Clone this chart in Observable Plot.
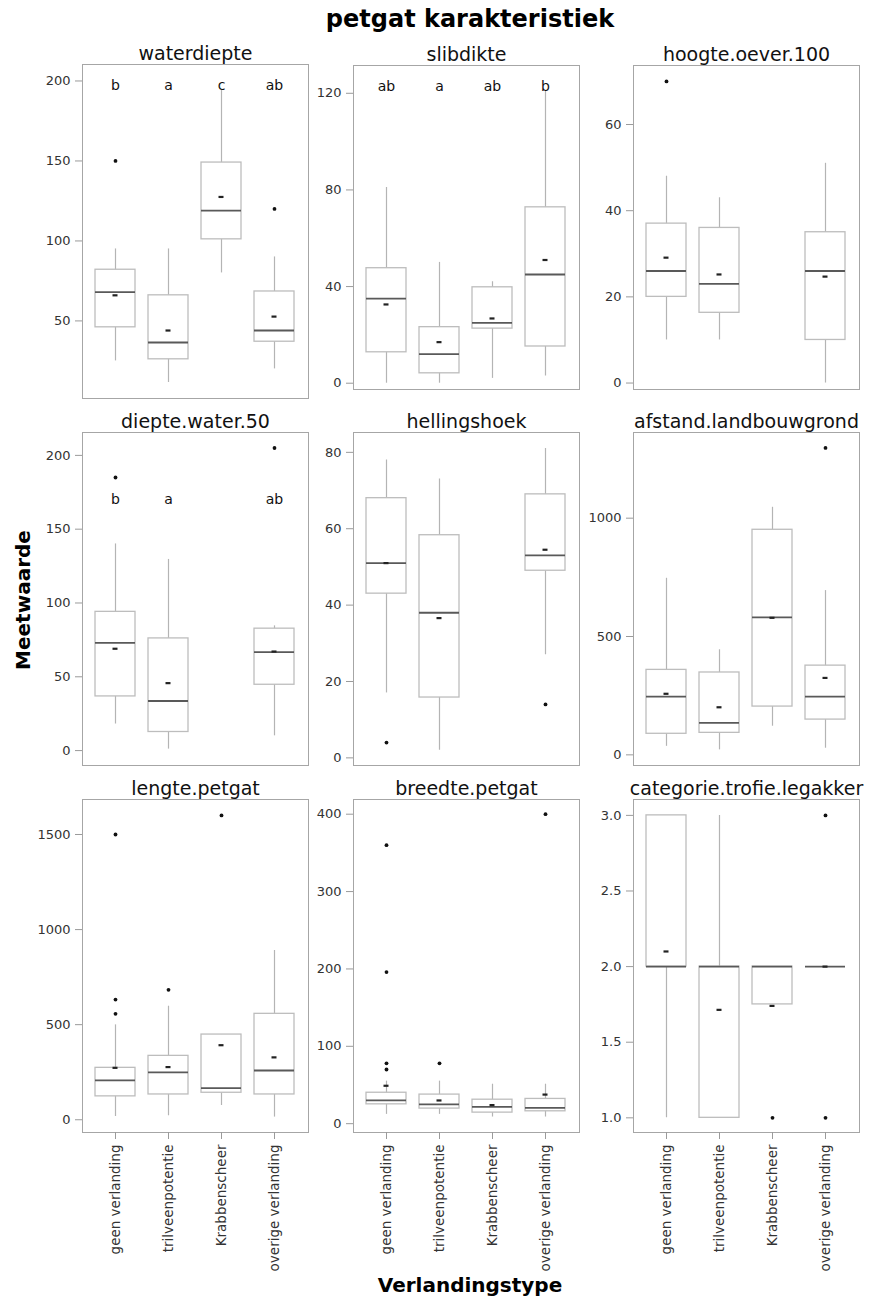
<!DOCTYPE html>
<html><head><meta charset="utf-8">
<script src="https://cdn.jsdelivr.net/npm/d3@7"></script>
<script src="https://cdn.jsdelivr.net/npm/@observablehq/plot@0.6"></script>
<style>
body{margin:0;background:#fff;font-family:"DejaVu Sans",sans-serif;}
#chart{position:relative;width:880px;height:1302px;overflow:hidden;}
.abs{position:absolute;white-space:nowrap;color:#000;}
</style></head><body><div id="chart"></div>
<script>
const categories = ["geen verlanding","trilveenpotentie","Krabbenscheer","overige verlanding"];
const panelNames = ["waterdiepte","slibdikte","hoogte.oever.100","diepte.water.50","hellingshoek","afstand.landbouwgrond","lengte.petgat","breedte.petgat","categorie.trofie.legakker"];

// per panel, per category (null = no data)
const lowWhisker = [
  [25,11.5,80,20],[0,0,2,3],[10,10,null,0],
  [18,1,null,10],[17,2,null,27],[36,21,121,28],
  [17,21,75,14],[12,12,8.6,8.6],[1,1,1.75,2]];
const q1 = [
  [46,26,101,37],[12.8,4.1,22.6,15.2],[20,16.3,null,10],
  [36.7,12.6,null,44.6],[43,15.8,null,49],[89,93,204,149],
  [123,133,142,133],[25,19.5,14.3,16],[2,1,1.75,2]];
const median = [
  [68,36.5,119,44],[35,12,25,45],[26,23,null,26],
  [73,33.6,null,66.7],[51,38,null,53],[246,135,581,246],
  [207,249,166,259],[30,25,21.6,20.3],[2,2,2,2]];
const q3 = [
  [82,66,149,68.4],[47.6,23.2,39.7,72.8],[37,36,null,35],
  [94,76,null,82.6],[68,58.3,null,69],[359,348,951,377],
  [273,336,448,557],[40,37.6,31,32],[3,2,2,2]];
const highWhisker = [
  [95,95,194,90],[81,50,42,121],[48,43,null,51],
  [140,129.5,null,84.5],[78,73,null,81],[746,444,1046,694],
  [499,597,448,890],[55,55,51,51],[3,3,2,2]];
const mean = [
  [66,44,127.5,52.7],[32.6,17,26.8,51],[29.1,25.2,null,24.7],
  [69,45.7,null,67.1],[51,36.6,null,54.5],[258,201,579,325],
  [273,277,392,328],[49,30,24,37.6],[2.1,1.714,1.74,2]];
// outliers: [category index, value]
const outliers = [
  [[0,150],[3,120]],[],[[0,70]],
  [[0,185],[3,205]],[[0,4],[3,14]],[[3,1297]],
  [[0,1500],[0,632],[0,557],[1,683],[2,1600]],
  [[0,360],[0,196],[0,78],[0,70],[1,78],[3,400]],
  [[2,1],[3,3],[3,1]]];
const letters = [["b","a","c","ab"],["ab","a","ab","b"],null,["b","a","","ab"],null,null,null,null,null];
const letterValue = [197,123,null,170,null,null,null,null,null];
const yTicks = [[50,100,150,200],[0,40,80,120],[0,20,40,60],[0,50,100,150,200],[0,20,40,60,80],[0,500,1000],[0,500,1000,1500],[0,100,200,300,400],[1,1.5,2,2.5,3]];

// layout / scale settings
const yDomains = [[1.5,210.3],[-2.6,131.5],[-1.5,73.7],[-10.1,215.5],[-2.0,85.2],[-45,1362],[-67,1684],[-11.4,419],[0.903,3.105]];
const colLeft = [82,353,633];
const rowTop = [[64,65,65],[432,432,432],[799,799,799]];
const rowBottom = [[398,389,389],[765,765,765],[1132,1132,1132]];
const frameW = 226;
const mL = 50, mR = 6, mT = 34;

const chart = document.getElementById("chart");
function addText(txt, css){const d=document.createElement("div");d.className="abs";d.textContent=txt;Object.assign(d.style,css);chart.appendChild(d);return d;}

addText("petgat karakteristiek",{left:"0",width:"940px",textAlign:"center",top:"5px",fontSize:"24px",fontWeight:"bold",fontFamily:"DejaVu Sans"});
addText("Meetwaarde",{left:"23px",top:"600px",fontSize:"20px",fontWeight:"bold",transform:"translate(-50%,-50%) rotate(-90deg)"});
addText("Verlandingstype",{left:"470px",top:"1285px",fontSize:"20px",fontWeight:"bold",transform:"translate(-50%,-50%)"});

panelNames.forEach((name,p)=>{
  const r = Math.floor(p/3), c = p%3;
  const fh = rowBottom[r][c]-rowTop[r][c];
  const bottomRow = r===2;
  const mB = bottomRow ? 160 : 4;
  const boxes = categories.map((cat,i)=>({cat, lo:lowWhisker[p][i], q1:q1[p][i], med:median[p][i], q3:q3[p][i], hi:highWhisker[p][i], mean:mean[p][i]})).filter(d=>d.med!=null);
  const outs = outliers[p].map(([i,v])=>({cat:categories[i], v}));
  const marks = [
    Plot.frame({stroke:"#a6a6a6"}),
    Plot.ruleX(boxes,{x:"cat",y1:"lo",y2:"hi",stroke:"#b4b4b4",strokeWidth:1.2}),
    Plot.barY(boxes,{x:"cat",y1:"q1",y2:"q3",fill:"white",stroke:"#bdbdbd",strokeWidth:1.3}),
    Plot.tickY(boxes,{x:"cat",y:"med",stroke:"#595959",strokeWidth:1.8}),
    Plot.tickY(boxes,{x:"cat",y:"mean",stroke:"#222",strokeWidth:2.2,insetLeft:17.5,insetRight:17.5}),
    Plot.dot(outs,{x:"cat",y:"v",r:1.9,fill:"#111",stroke:null}),
    Plot.axisY({ticks:yTicks[p],tickSize:7,tickPadding:5,fontSize:13,stroke:"#9a9a9a",fill:"#333",label:null,tickFormat: p===8 ? d3.format(".1f") : d3.format("d")}),
    Plot.text([name],{frameAnchor:"top",dy:-5,lineAnchor:"bottom",fontSize:19,fill:"#111",letterSpacing:"0.6px"})
  ];
  if (letters[p]) {
    marks.push(Plot.text(categories.map((cat,i)=>({cat,t:letters[p][i]})).filter(d=>d.t),{x:"cat",y:()=>letterValue[p],text:"t",fontSize:14,fill:"#111"}));
  }
  if (bottomRow) {
    marks.push(Plot.axisX({tickRotate:-90,tickSize:7,tickPadding:5,fontSize:13.5,stroke:"#9a9a9a",fill:"#333",label:null}));
  }
  const plot = Plot.plot({
    width: mL+frameW+mR, height: mT+fh+mB,
    marginLeft:mL, marginRight:mR, marginTop:mT, marginBottom:mB,
    style:{fontFamily:"DejaVu Sans",overflow:"visible",background:"transparent"},
    x:{domain:categories, paddingInner:0.239, paddingOuter:0.231, ...(bottomRow?{}:{axis:null})},
    y:{domain:yDomains[p], axis:null},
    marks
  });
  plot.style.position="absolute";
  plot.style.left=(colLeft[c]-mL)+"px";
  plot.style.top=(rowTop[r][c]-mT)+"px";
  chart.appendChild(plot);
});
</script>
</body></html>
